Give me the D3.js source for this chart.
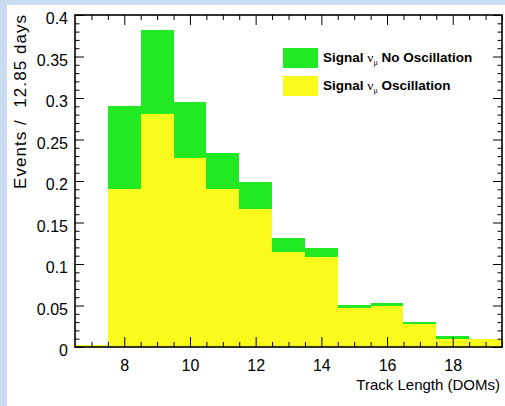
<!DOCTYPE html>
<html>
<head>
<meta charset="utf-8">
<script src="https://cdn.jsdelivr.net/npm/d3@7"></script>
<style>
  html, body { margin: 0; padding: 0; background: #c9dcf1; }
  svg { display: block; }
</style>
</head>
<body>
<svg id="chart" width="505" height="406"></svg>
<script>
// Bin centres (track length in DOMs), unit-wide bins
const binCenters = [7, 8, 9, 10, 11, 12, 13, 14, 15, 16, 17, 18, 19];
// Expected events per 12.85 days, no oscillation
const noOscillation = [0.002, 0.290, 0.382, 0.295, 0.234, 0.199, 0.131, 0.119, 0.051, 0.053, 0.030, 0.013, 0.010];
// Expected events per 12.85 days, with oscillation
const withOscillation = [0.002, 0.190, 0.281, 0.228, 0.190, 0.166, 0.114, 0.108, 0.047, 0.049, 0.028, 0.010, 0.010];
const xTickValues = [8, 10, 12, 14, 16, 18];
const yTickValues = [0, 0.05, 0.1, 0.15, 0.2, 0.25, 0.3, 0.35, 0.4];
const legendLabels = ["No Oscillation", "Oscillation"];

const GREEN = "#22ea22";
const YELLOW = "#fafa1c";
const FONT = "'Liberation Sans', Arial, sans-serif";

const svg = d3.select("#chart");

// page backdrop and white canvas
svg.append("rect").attr("x", 0).attr("y", 0).attr("width", 505).attr("height", 406).attr("fill", "#c9dcf1");
svg.append("rect").attr("x", 7).attr("y", 5).attr("width", 498).attr("height", 401).attr("fill", "#ffffff");

const plotLeft = 75, plotRight = 502, plotTop = 15, plotBottom = 347;
const x = d3.scaleLinear().domain([6.5, 19.5]).range([plotLeft, plotRight]);
const y = d3.scaleLinear().domain([0, 0.4]).range([plotBottom, plotTop]);

const bins = binCenters.map((c, i) => ({ x0: c - 0.5, x1: c + 0.5, g: noOscillation[i], yel: withOscillation[i] }));

// full no-oscillation histogram, with the oscillated one drawn over it
const hist = svg.append("g");
hist.selectAll("rect.no").data(bins).join("rect")
  .attr("class", "no")
  .attr("x", d => x(d.x0)).attr("width", d => x(d.x1) - x(d.x0))
  .attr("y", d => y(d.g)).attr("height", d => y(0) - y(d.g))
  .attr("fill", GREEN).attr("shape-rendering", "crispEdges");
hist.selectAll("rect.osc").data(bins).join("rect")
  .attr("class", "osc")
  .attr("x", d => x(d.x0)).attr("width", d => x(d.x1) - x(d.x0))
  .attr("y", d => y(d.yel)).attr("height", d => y(0) - y(d.yel))
  .attr("fill", YELLOW).attr("shape-rendering", "crispEdges");

// inward-pointing ticks on all four sides
const xMinor = d3.range(7, 19.51, 0.5).filter(v => !xTickValues.includes(v));
const yMinor = d3.range(0.01, 0.4, 0.01).map(v => +v.toFixed(2)).filter(v => !yTickValues.some(t => Math.abs(t - v) < 1e-6));

function addAxis(axisGen, transform) {
  const a = svg.append("g").attr("transform", transform).call(axisGen);
  a.select(".domain").remove();
  a.selectAll("line").attr("stroke", "#000").attr("stroke-width", 1);
  return a;
}

// bottom: major with labels
const xb = addAxis(d3.axisBottom(x).tickValues(xTickValues).tickSize(-10).tickPadding(13).tickFormat(d3.format("d")), `translate(0,${plotBottom})`);
xb.selectAll("text").attr("font-family", FONT).attr("font-size", 16).attr("fill", "#000");
addAxis(d3.axisBottom(x).tickValues(xMinor).tickSize(-5).tickFormat(""), `translate(0,${plotBottom})`);
// top
addAxis(d3.axisTop(x).tickValues(xTickValues).tickSize(-10).tickFormat(""), `translate(0,${plotTop})`);
addAxis(d3.axisTop(x).tickValues(xMinor).tickSize(-5).tickFormat(""), `translate(0,${plotTop})`);
// left
const yl = addAxis(d3.axisLeft(y).tickValues(yTickValues).tickSize(-9).tickPadding(7).tickFormat(d => d === 0 ? "0" : String(+d.toFixed(2))), `translate(${plotLeft},0)`);
yl.selectAll("text").attr("font-family", FONT).attr("font-size", 16).attr("fill", "#000").attr("dy", "0.55em").attr("x", -7);
addAxis(d3.axisLeft(y).tickValues(yMinor).tickSize(-4.5).tickFormat(""), `translate(${plotLeft},0)`);
// right
addAxis(d3.axisRight(y).tickValues(yTickValues).tickSize(-9).tickFormat(""), `translate(${plotRight},0)`);
addAxis(d3.axisRight(y).tickValues(yMinor).tickSize(-4.5).tickFormat(""), `translate(${plotRight},0)`);

// frame
svg.append("rect").attr("x", plotLeft).attr("y", plotTop).attr("width", plotRight - plotLeft).attr("height", plotBottom - plotTop)
  .attr("fill", "none").attr("stroke", "#000").attr("stroke-width", 1.6);

// axis titles
svg.append("text")
  .attr("x", 500).attr("y", 390).attr("text-anchor", "end")
  .attr("font-family", FONT).attr("font-size", 15).attr("fill", "#000")
  .text("Track Length (DOMs)");
svg.append("text")
  .attr("transform", `translate(26,${plotTop}) rotate(-90)`).attr("text-anchor", "end")
  .attr("font-family", FONT).attr("font-size", 17).attr("fill", "#000")
  .attr("textLength", 174).attr("lengthAdjust", "spacing")
  .style("white-space", "pre")
  .text("Events /  12.85 days");

// legend
const legend = svg.append("g");
const legendColors = [GREEN, YELLOW];
const legendY = [48, 76];
legendLabels.forEach((lab, i) => {
  legend.append("rect").attr("x", 283).attr("y", legendY[i]).attr("width", 35).attr("height", 20)
    .attr("fill", legendColors[i]);
  const t = legend.append("text").attr("x", 323).attr("y", legendY[i] + 14)
    .attr("font-family", FONT).attr("font-size", 13.5).attr("font-weight", "bold").attr("fill", "#000")
    .style("white-space", "pre");
  t.append("tspan").text("Signal ");
  t.append("tspan").attr("font-family", "'Liberation Serif', serif").attr("font-weight", "normal").text("\u03BD");
  t.append("tspan").attr("font-family", "'Liberation Serif', serif").attr("font-weight", "normal")
    .attr("font-size", 8).attr("dy", 3).text("\u03BC");
  t.append("tspan").attr("dy", -3).text(" " + lab);
});
</script>
</body>
</html>
